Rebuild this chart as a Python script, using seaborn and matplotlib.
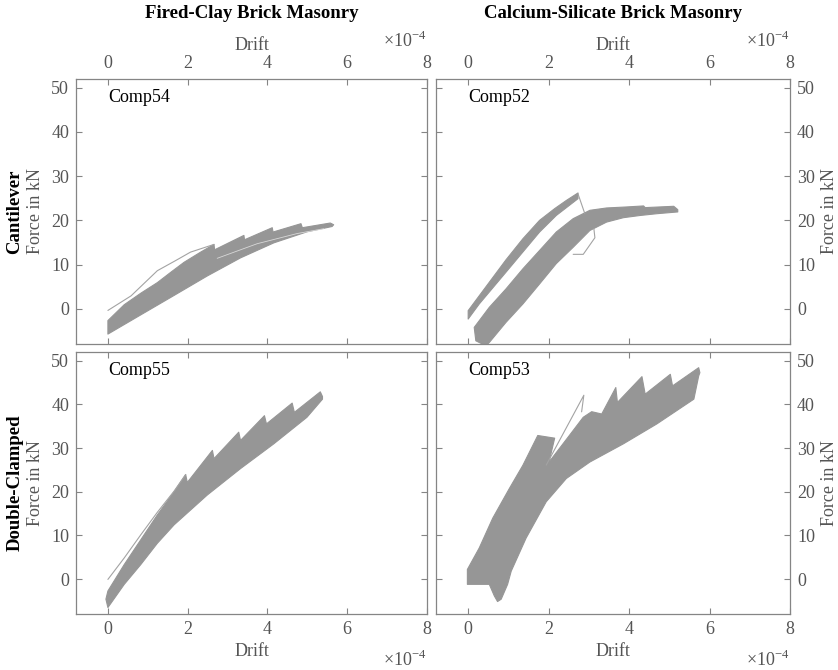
import pandas as pd
import seaborn as sns
import matplotlib.pyplot as plt

# Drift in units of 1e-4, force in kN

# Comp54 - fired-clay brick, cantilever
comp54_upper_drift = [0.0, 0.41, 0.825, 1.24, 1.6, 1.91, 2.325, 2.66, 2.675, 3.41, 3.425, 4.12, 4.14, 4.84, 4.875, 5.575, 5.66]
comp54_upper_force = [-2.7, 0.9, 3.5, 5.9, 8.4, 10.5, 12.8, 14.55, 13.33, 16.59, 15.6, 18.33, 17.35, 19.24, 18.33, 19.39, 19.0]
comp54_lower_drift = [0.0, 0.825, 1.66, 2.49, 3.325, 4.16, 4.99, 5.62]
comp54_lower_force = [-5.76, -1.4, 3.0, 7.4, 11.5, 14.9, 17.4, 18.6]
comp54_line_drift = [0.0, 0.58, 1.24, 1.7, 2.07, 2.66]
comp54_line_force = [-0.4, 2.9, 8.6, 10.9, 12.8, 14.55]
comp54_gap_drift = [2.74, 3.74, 4.74, 5.41]
comp54_gap_force = [11.4, 14.7, 17.0, 18.1]

# Comp52 - calcium-silicate brick, cantilever
comp52_early_upper_drift = [0.0, 0.525, 0.94, 1.36, 1.775, 2.15, 2.44, 2.73]
comp52_early_upper_force = [-0.45, 5.98, 11.06, 15.83, 20.0, 22.65, 24.5, 26.2]
comp52_early_lower_drift = [0.0, 0.275, 0.94, 1.775, 2.19, 2.73]
comp52_early_lower_force = [-2.35, 1.06, 8.26, 17.35, 21.1, 24.9]
comp52_upper_drift = [0.15, 0.525, 0.94, 1.36, 1.775, 2.19, 2.61, 3.025, 3.44, 3.94, 4.36, 4.4, 5.11, 5.21]
comp52_upper_force = [-4.24, 0.3, 4.47, 9.02, 13.18, 17.35, 20.38, 22.27, 22.8, 23.03, 23.26, 22.88, 23.18, 22.42]
comp52_lower_drift = [0.19, 0.44, 0.525, 0.94, 1.36, 1.775, 2.19, 2.61, 3.025, 3.44, 3.86, 4.275, 4.69, 5.21]
comp52_lower_force = [-7.27, -8.4, -7.66, -3.1, 1.06, 5.6, 10.2, 13.9, 17.7, 19.6, 20.6, 21.1, 21.5, 21.9]
comp52_jump_drift = [2.73, 2.9]
comp52_jump_force = [26.0, 21.5]
comp52_loop_drift = [2.61, 2.86, 3.15, 3.125]
comp52_loop_force = [12.3, 12.3, 16.06, 18.1]

# Comp55 - fired-clay brick, double-clamped
comp55_upper_drift = [0.0, 0.41, 0.825, 1.24, 1.66, 1.95, 1.99, 2.62, 2.66, 3.28, 3.325, 3.925, 3.975, 4.62, 4.675, 5.325, 5.38]
comp55_upper_force = [-2.73, 3.33, 9.0, 14.7, 20.0, 23.94, 22.12, 29.47, 27.58, 33.64, 31.74, 37.42, 35.53, 40.3, 38.18, 42.88, 41.8]
comp55_lower_drift = [-0.05, 0.0, 0.41, 0.825, 1.24, 1.66, 2.49, 3.325, 4.16, 4.99, 5.38]
comp55_lower_force = [-4.6, -6.52, -1.21, 3.33, 8.2, 12.42, 19.24, 25.3, 30.98, 37.05, 41.2]
comp55_line_drift = [0.0, 0.41, 0.825, 1.24, 1.66, 1.95]
comp55_line_force = [-0.08, 4.85, 10.15, 15.3, 20.15, 23.94]

# Comp53 - calcium-silicate brick, double-clamped
comp53_upper_drift = [-0.02, -0.02, 0.275, 0.61, 1.025, 1.36, 1.73, 2.15, 2.01, 2.44, 2.86, 3.07, 3.32, 3.67, 3.71,
                      4.32, 4.4, 5.025, 5.08, 5.73, 5.76]
comp53_upper_force = [-1.21, 2.2, 7.12, 13.94, 20.76, 26.06, 32.88, 32.27, 26.8, 31.97, 37.05, 38.33, 37.8, 43.86, 40.45,
                      46.36, 42.35, 46.89, 44.24, 48.41, 47.27]
comp53_lower_drift = [0.525, 0.65, 0.73, 0.82, 0.98, 1.07, 1.44, 1.94, 2.44, 3.025, 3.86, 4.69, 5.61, 5.73]
comp53_lower_force = [-1.21, -3.86, -5.15, -4.62, -1.21, 1.82, 9.39, 17.7, 23.03, 26.8, 30.98, 35.53, 41.2, 46.5]
comp53_spike_drift = [1.94, 2.875, 2.82]
comp53_spike_force = [26.1, 42.1, 38.3]

x_ticks = [0, 2, 4, 6, 8]
y_ticks = [0, 10, 20, 30, 40, 50]
col_titles = ["Fired-Clay Brick Masonry", "Calcium-Silicate Brick Masonry"]
row_titles = ["Cantilever", "Double-Clamped"]

BAND = "#969696"
LINE = "#a3a3a3"
TEXT = "#555555"
SPINE = "#858585"
FS = 13

sns.set_theme(style="ticks")
plt.rcParams["font.family"] = ["Liberation Serif", "DejaVu Serif"]
plt.rcParams["mathtext.fontset"] = "custom"
plt.rcParams["mathtext.rm"] = "Liberation Serif"

W, H = 838, 670
fig = plt.figure(figsize=(W / 100, H / 100), dpi=100)
ax_tl = fig.add_axes([76 / W, 1 - 344 / H, 351 / W, 265 / H])
ax_tr = fig.add_axes([436 / W, 1 - 344 / H, 354 / W, 265 / H])
ax_bl = fig.add_axes([76 / W, 1 - 614 / H, 351 / W, 262 / H])
ax_br = fig.add_axes([436 / W, 1 - 614 / H, 354 / W, 262 / H])


def band(ax, up_d, up_f, lo_d, lo_f):
    ax.fill(up_d + lo_d[::-1], up_f + lo_f[::-1], color=BAND, ec=BAND, lw=0.8,
            joinstyle="round", zorder=2)


def thin(ax, d, f, color=LINE, lw=0.8):
    df = pd.DataFrame({"drift": d, "force": f})
    sns.lineplot(data=df, x="drift", y="force", sort=False, estimator=None,
                 color=color, lw=lw, ax=ax, zorder=3)


band(ax_tl, comp54_upper_drift, comp54_upper_force, comp54_lower_drift, comp54_lower_force)
thin(ax_tl, comp54_line_drift, comp54_line_force)
thin(ax_tl, comp54_gap_drift, comp54_gap_force, color="#d8d8d8", lw=0.6)

band(ax_tr, comp52_early_upper_drift, comp52_early_upper_force, comp52_early_lower_drift, comp52_early_lower_force)
band(ax_tr, comp52_upper_drift, comp52_upper_force, comp52_lower_drift, comp52_lower_force)
thin(ax_tr, comp52_jump_drift, comp52_jump_force)
thin(ax_tr, comp52_loop_drift, comp52_loop_force)

band(ax_bl, comp55_upper_drift, comp55_upper_force, comp55_lower_drift, comp55_lower_force)
thin(ax_bl, comp55_line_drift, comp55_line_force)

band(ax_br, comp53_upper_drift, comp53_upper_force, comp53_lower_drift, comp53_lower_force)
thin(ax_br, comp53_spike_drift, comp53_spike_force)

panels = [(ax_tl, "Comp54", "top", "left"), (ax_tr, "Comp52", "top", "right"),
          (ax_bl, "Comp55", "bottom", "left"), (ax_br, "Comp53", "bottom", "right")]

for ax, name, xside, yside in panels:
    ax.set_xlim(-0.8, 8)
    ax.set_ylim(-8, 52)
    ax.set_xticks(x_ticks)
    ax.set_yticks(y_ticks)
    ax.set_xticklabels([str(t) for t in x_ticks])
    ax.set_yticklabels([str(t) for t in y_ticks])
    ax.tick_params(direction="in", length=4, width=0.8, color=SPINE, labelcolor=TEXT,
                   labelsize=FS, pad=5, top=True, bottom=True, left=True, right=True,
                   labeltop=(xside == "top"), labelbottom=(xside == "bottom"),
                   labelleft=(yside == "left"), labelright=(yside == "right"))
    for sp in ax.spines.values():
        sp.set_visible(True)
        sp.set_color(SPINE)
        sp.set_linewidth(0.9)
    ax.xaxis.set_label_position(xside)
    ax.set_xlabel("Drift", fontsize=FS, color=TEXT, labelpad=4)
    ax.yaxis.set_label_position(yside)
    ax.set_ylabel("")
    ax.text(0, 47.7, name, fontsize=FS, color="black", ha="left", va="center")
    # exponent label
    bb = ax.get_position()
    ty = 1 - 47 / H if xside == "top" else 1 - 666 / H
    fig.text(bb.x1, ty, r"$\times$10$^{\mathregular{-4}}$", fontsize=FS, color=TEXT,
             ha="right", va="baseline")

# column titles
for ax, title in zip([ax_tl, ax_tr], col_titles):
    bb = ax.get_position()
    fig.text((bb.x0 + bb.x1) / 2, 1 - 14 / H, title, fontsize=13.5, fontweight="bold",
             color="black", ha="center", va="center")

# row labels and force labels
for ax_l, ax_r, row in zip([ax_tl, ax_bl], [ax_tr, ax_br], row_titles):
    bb = ax_l.get_position()
    yc = (bb.y0 + bb.y1) / 2
    fig.text(15 / W, yc, row, fontsize=13.5, fontweight="bold", color="black",
             rotation=90, ha="center", va="center")
    fig.text(36 / W, yc, "Force in kN", fontsize=FS, color=TEXT,
             rotation=90, ha="center", va="center")
    fig.text(829 / W, yc, "Force in kN", fontsize=FS, color=TEXT,
             rotation=90, ha="center", va="center")

fig.savefig("out.png", dpi=100)
